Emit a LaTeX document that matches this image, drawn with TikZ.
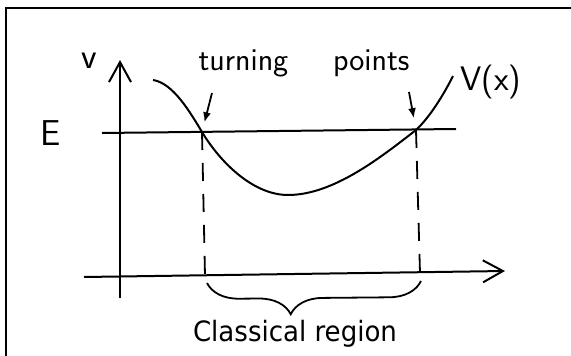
\documentclass[tikz,border=0pt]{standalone}
\usepackage{fontspec}
\usetikzlibrary{arrows.meta,decorations.pathreplacing}
\newfontfamily\typedfont{DejaVu Sans}

\begin{document}
\begin{tikzpicture}[x=1pt,y=-1pt,
    hand/.style={font=\sffamily\fontsize{32}{38}\selectfont,inner sep=0pt},
    axis/.style={line width=2pt,-{Straight Barb[length=20pt,width=22pt]}},
    curve/.style={line width=2pt},
    pointer/.style={line width=1.8pt,-{Latex[length=10pt,width=8pt]}},
    dropline/.style={line width=1.8pt,dash pattern=on 18pt off 13pt},
    regionbrace/.style={line width=1.8pt,decorate,
      decoration={brace,mirror,amplitude=32pt,aspect=0.39}}]
    \useasboundingbox (0,0) rectangle (571,356);
    \draw[line width=2.2pt] (6,356) -- (6,8) -- (571,8);
    % axes and energy level
    \coordinate (ybot) at (120,298);
    \coordinate (ytop) at (120,60);
    \coordinate (xl) at (84,277);
    \coordinate (xr) at (505,271);
    \coordinate (el) at (102,133);
    \coordinate (er) at (456,129);
    \draw[axis] (ybot) -- (ytop);
    \draw[axis] (xl) -- (xr);
    \draw[curve] (el) -- (er);
    % potential curve
    \coordinate (start) at (153,80);
    \coordinate (tl) at (202,132);
    \coordinate (vmin) at (288,195);
    \coordinate (tr) at (416,130);
    \coordinate (fin) at (453,76);
    \draw[curve] (start) .. controls (173,83) and (190,112) .. (tl)
      .. controls (220,162) and (253,195) .. (vmin)
      .. controls (333,195) and (380,158) .. (tr)
      .. controls (430,117) and (444,94) .. (fin);
    % classical region
    \coordinate (tlfoot) at (205,276);
    \coordinate (trfoot) at (420,273);
    \draw[dropline] (tl) -- (tlfoot);
    \draw[dropline] (tr) -- (trfoot);
    \coordinate (bl) at (207,283);
    \coordinate (br) at (421,281);
    \draw[regionbrace] (bl) -- (br);
    % labels
    \node[hand,font=\sffamily\fontsize{36}{40}\selectfont] (vlabel) at (89,61) {v};
    \node[hand,font=\sffamily\fontsize{36}{40}\selectfont] (elabel) at (51,133) {E};
    \node[hand,anchor=base] (tp) at (304,70) {turning\hspace{1.4em}points};
    \node[hand,font=\sffamily\fontsize{34}{40}\selectfont] (vx) at (491,82) {V(x)};
    \node[font=\typedfont\fontsize{28}{32}\selectfont,xscale=0.93,anchor=base]
      (region) at (295,341) {Classical region};
    \coordinate (pl) at (212,93);
    \coordinate (pr) at (409,92);
    \draw[pointer,shorten >=10pt] (pl) -- (tl);
    \draw[pointer,shorten >=12pt] (pr) -- (tr);
\end{tikzpicture}
\end{document}
